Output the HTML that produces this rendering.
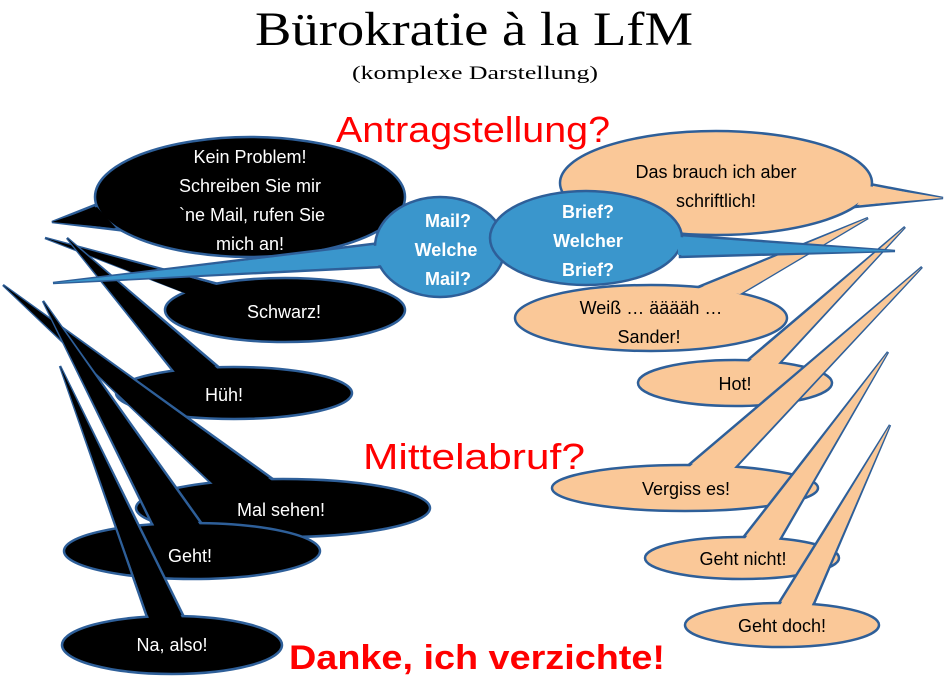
<!DOCTYPE html>
<html><head><meta charset="utf-8"><style>
html,body{margin:0;padding:0;background:#fff;}
svg{display:block;}
.c{font-family:"Liberation Sans",sans-serif;font-size:18px;text-anchor:middle;}
</style></head><body>
<svg width="948" height="676" viewBox="0 0 948 676" xmlns="http://www.w3.org/2000/svg">
<g stroke="#2e5f99" stroke-width="2.5" stroke-linejoin="miter">
<g fill="#000">
<polygon points="52,222 95,205 118,230"/><ellipse cx="250" cy="197" rx="155" ry="60"/><polygon points="52,222 97,207 116,228" stroke="none"/>
<polygon points="45,238 187,293 222,285"/><ellipse cx="285" cy="310" rx="120" ry="32"/><polygon points="45,238 187,294 220,286" stroke="none"/>
<polygon points="67,238 173,371 222,370"/><ellipse cx="234" cy="393" rx="118" ry="26"/><polygon points="67,238 175,372 220,371" stroke="none"/>
<polygon points="3,285 213,485 277,482"/><ellipse cx="283" cy="508" rx="147" ry="29"/><polygon points="3,285 215,486 275,483" stroke="none"/>
<polygon points="43,301 153,526 202,524"/><ellipse cx="192" cy="551" rx="128" ry="28"/><polygon points="43,301 155,527 200,525" stroke="none"/>
<polygon points="60,366 148,620 185,619"/><ellipse cx="172" cy="645" rx="110" ry="29"/><polygon points="60,366 150,621 183,620" stroke="none"/>
</g>
<g fill="#fac898">
<polygon points="943,198 870,184 855,207"/><ellipse cx="716" cy="183" rx="156" ry="52"/><polygon points="943,198 868,186 857,205" stroke="none"/>
<polygon points="868,218 693,289 742,293"/><ellipse cx="651" cy="318" rx="136" ry="33"/><polygon points="868,218 695,290 740,294" stroke="none"/>
<polygon points="905,227 743,364 778,365"/><ellipse cx="735" cy="383" rx="97" ry="23"/><polygon points="905,227 745,365 776,366" stroke="none"/>
<polygon points="922,267 685,468 736,467"/><ellipse cx="685" cy="488" rx="133" ry="23"/><polygon points="922,267 687,469 734,468" stroke="none"/>
<polygon points="888,352 742,539 780,540"/><ellipse cx="742" cy="558" rx="97" ry="21"/><polygon points="888,352 744,540 778,541" stroke="none"/>
<polygon points="890,425 777,606 813,606"/><ellipse cx="782" cy="625" rx="97" ry="22"/><polygon points="890,425 779,607 811,607" stroke="none"/>
</g>
<g fill="#3a96cc">
<polygon points="53,283 380,243 382,267"/><ellipse cx="440" cy="247" rx="65" ry="50"/><polygon points="53,283 382,245 384,265" stroke="none"/>
<polygon points="895,251 680,235 680,257"/><ellipse cx="586" cy="238" rx="96" ry="47"/><polygon points="895,251 678,237 678,255" stroke="none"/>
</g>
</g>
<text x="474" y="45" font-family="'Liberation Serif',serif" font-size="48" text-anchor="middle" textLength="438" lengthAdjust="spacingAndGlyphs">Bürokratie à la LfM</text>
<text x="475" y="79" font-family="'Liberation Serif',serif" font-size="19" text-anchor="middle" textLength="246" lengthAdjust="spacingAndGlyphs">(komplexe Darstellung)</text>
<text x="473" y="142" font-family="'Liberation Sans',sans-serif" font-size="36" fill="#f00" text-anchor="middle" textLength="274" lengthAdjust="spacingAndGlyphs">Antragstellung?</text>
<text x="474" y="469" font-family="'Liberation Sans',sans-serif" font-size="36" fill="#f00" text-anchor="middle" textLength="222" lengthAdjust="spacingAndGlyphs">Mittelabruf?</text>
<text x="477" y="669" font-family="'Liberation Sans',sans-serif" font-size="34" font-weight="bold" fill="#f00" text-anchor="middle" textLength="376" lengthAdjust="spacingAndGlyphs">Danke, ich verzichte!</text>
<g class="c" fill="#fff">
<text x="250" y="163">Kein Problem!</text>
<text x="250" y="192">Schreiben Sie mir</text>
<text x="252" y="221">`ne Mail, rufen Sie</text>
<text x="250" y="250">mich an!</text>
<text x="284" y="318">Schwarz!</text>
<text x="224" y="401">Hüh!</text>
<text x="281" y="516">Mal sehen!</text>
<text x="190" y="562">Geht!</text>
<text x="172" y="651">Na, also!</text>
<text x="448" y="227" font-weight="bold">Mail?</text>
<text x="446" y="256" font-weight="bold">Welche</text>
<text x="448" y="285" font-weight="bold">Mail?</text>
<text x="588" y="218" font-weight="bold">Brief?</text>
<text x="588" y="247" font-weight="bold">Welcher</text>
<text x="588" y="276" font-weight="bold">Brief?</text>
</g>
<g class="c" fill="#000">
<text x="716" y="178">Das brauch ich aber</text>
<text x="716" y="207">schriftlich!</text>
<text x="651" y="314">Weiß … ääääh …</text>
<text x="649" y="343">Sander!</text>
<text x="735" y="390">Hot!</text>
<text x="686" y="495">Vergiss es!</text>
<text x="743" y="565">Geht nicht!</text>
<text x="782" y="632">Geht doch!</text>
</g>
</svg>
</body></html>
